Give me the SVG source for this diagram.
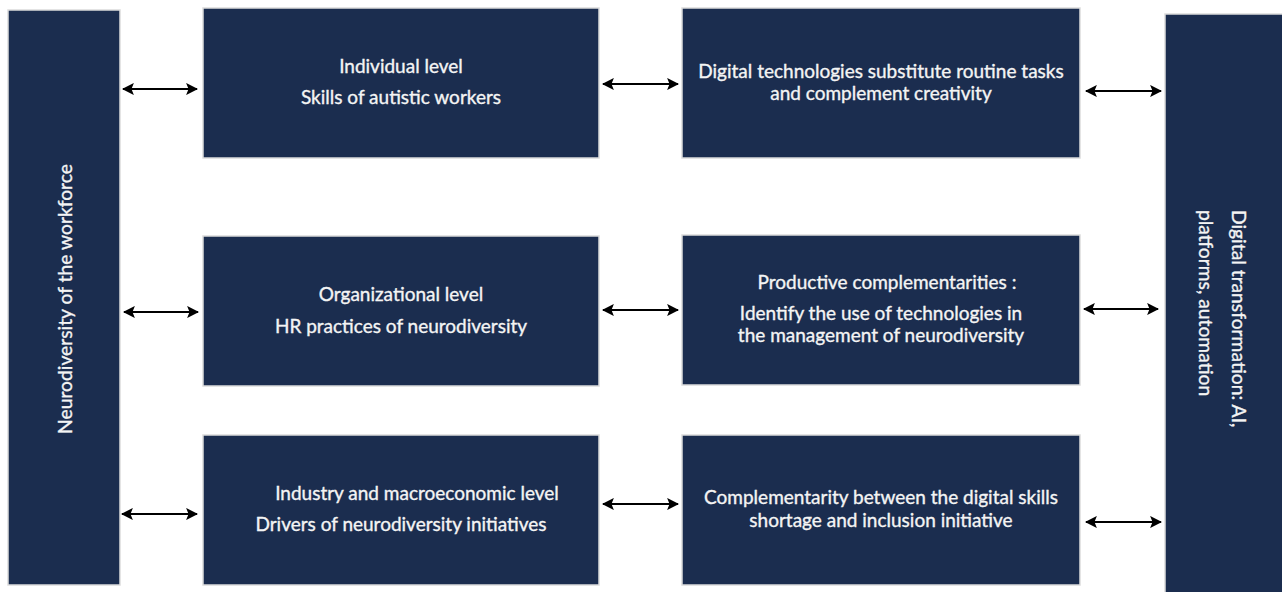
<svg xmlns="http://www.w3.org/2000/svg" width="1282" height="592" viewBox="0 0 1282 592">
  <style>
    .box { fill: #1b2d4f; stroke: #dcdcdc; stroke-width: 1.5; }
    .lbl { font-family: Lato, "Open Sans", "Liberation Sans", sans-serif; font-size: 19px; fill: #f4f4f4; stroke: #f4f4f4; stroke-width: 0.35; text-anchor: middle; }
    .side { font-family: Lato, "Open Sans", "Liberation Sans", sans-serif; font-size: 19.3px; fill: #f4f4f4; stroke: #f4f4f4; stroke-width: 0.35; }
    .conn { stroke: #000; stroke-width: 2.2; fill: none; marker-start: url(#head); marker-end: url(#head); }
  </style>
  <defs>
    <marker id="head" viewBox="0 0 10 10" refX="9" refY="5" markerWidth="5.5" markerHeight="5.5" orient="auto-start-reverse" markerUnits="strokeWidth">
      <path d="M0,0 L10,5 L0,10 L2,5 Z" fill="#000"/>
    </marker>
  </defs>
  <rect width="1282" height="592" fill="#fff"/>

  <!-- left column: workforce -->
  <g id="workforce">
    <rect class="box" x="8" y="10" width="112" height="575"/>
    <text class="side" text-anchor="middle" transform="translate(72,299) rotate(-90)">Neurodiversity of the workforce</text>
  </g>

  <!-- right column: digital transformation -->
  <g id="digital">
    <rect class="box" x="1165" y="14" width="120" height="582"/>
    <text class="side" transform="translate(1232,210) rotate(90)">
      <tspan x="0" y="0">Digital transformation: AI,</tspan>
      <tspan x="0" y="33">platforms, automation</tspan>
    </text>
  </g>

  <g id="individual">
    <rect class="box" x="203" y="8" width="396" height="150"/>
    <text class="lbl"><tspan x="401" y="73">Individual level</tspan><tspan x="401" y="104">Skills of autistic workers</tspan></text>
  </g>

  <g id="substitution">
    <rect class="box" x="682" y="8" width="398" height="150"/>
    <text class="lbl"><tspan x="881" y="78">Digital technologies substitute routine tasks</tspan><tspan x="881" y="100">and complement creativity</tspan></text>
  </g>

  <g id="organizational">
    <rect class="box" x="203" y="236" width="396" height="150"/>
    <text class="lbl"><tspan x="401" y="301">Organizational level</tspan><tspan x="401" y="333">HR practices of neurodiversity</tspan></text>
  </g>

  <g id="productive">
    <rect class="box" x="682" y="235" width="398" height="150"/>
    <text class="lbl"><tspan x="887" y="289">Productive complementarities :</tspan><tspan x="881" y="320">Identify the use of technologies in</tspan><tspan x="881" y="342">the management of neurodiversity</tspan></text>
  </g>

  <g id="industry">
    <rect class="box" x="203" y="435" width="396" height="150"/>
    <text class="lbl"><tspan x="417" y="500">Industry and macroeconomic level</tspan><tspan x="401" y="531">Drivers of neurodiversity initiatives</tspan></text>
  </g>

  <g id="shortage">
    <rect class="box" x="682" y="435" width="398" height="150"/>
    <text class="lbl"><tspan x="881" y="504">Complementarity between the digital skills</tspan><tspan x="881" y="527">shortage and inclusion initiative</tspan></text>
  </g>

  <g id="connectors">
    <line class="conn" x1="123" y1="89" x2="197" y2="89"/>
    <line class="conn" x1="603" y1="84" x2="678" y2="84"/>
    <line class="conn" x1="1086" y1="91" x2="1161" y2="91"/>
    <line class="conn" x1="124" y1="312" x2="198" y2="312"/>
    <line class="conn" x1="603" y1="310" x2="678" y2="310"/>
    <line class="conn" x1="1084" y1="309" x2="1158" y2="309"/>
    <line class="conn" x1="122" y1="514" x2="197" y2="514"/>
    <line class="conn" x1="603" y1="504" x2="678" y2="504"/>
    <line class="conn" x1="1086" y1="522" x2="1161" y2="522"/>
  </g>
</svg>
